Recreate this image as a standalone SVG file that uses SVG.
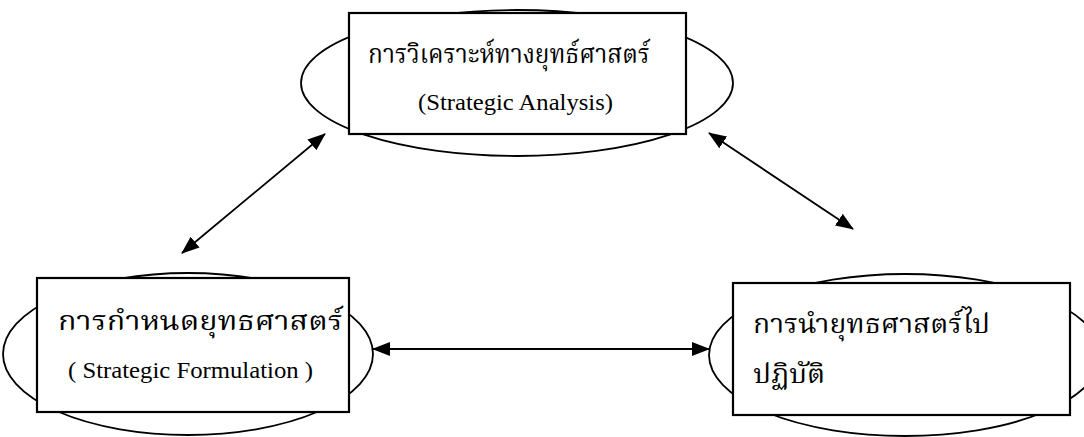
<svg xmlns="http://www.w3.org/2000/svg" width="1084" height="437" viewBox="0 0 1084 437">
<style>
.ell{fill:none;stroke:#000;stroke-width:1.8}
.box{fill:#fff;stroke:#000;stroke-width:2.2}
.th{font-family:"Liberation Serif","Noto Serif Thai","Noto Sans Thai",serif;font-size:27px;fill:#000}
.en{font-family:"Liberation Serif","Times New Roman",serif;font-size:24px;fill:#000}
.ar{stroke:#000;stroke-width:1.8;fill:none;marker-start:url(#ah);marker-end:url(#ah)}
</style>
<defs>
<marker id="ah" viewBox="0 0 18 14" refX="17" refY="7" markerWidth="18" markerHeight="14" markerUnits="userSpaceOnUse" orient="auto-start-reverse">
<path d="M0,0 L18,7 L0,14 Z" fill="#000"/>
</marker>
</defs>
<g id="node-analysis">
<ellipse class="ell" cx="517" cy="83" rx="216" ry="73"/>
<rect class="box" x="349" y="13" width="337" height="121"/>
<text class="th" x="368" y="63" textLength="282" lengthAdjust="spacingAndGlyphs">การวิเคราะห์ทางยุทธ์ศาสตร์</text>
<text class="en" x="418" y="110" textLength="195" lengthAdjust="spacingAndGlyphs">(Strategic Analysis)</text>
</g>
<g id="node-formulation">
<ellipse class="ell" cx="188" cy="354" rx="185" ry="81"/>
<rect class="box" x="37" y="278" width="312" height="134"/>
<text class="th" x="58" y="330" textLength="285" lengthAdjust="spacingAndGlyphs">การกำหนดยุทธศาสตร์</text>
<text class="en" x="68" y="378" textLength="245" lengthAdjust="spacingAndGlyphs">( Strategic Formulation )</text>
</g>
<g id="node-implementation">
<ellipse class="ell" cx="905" cy="355" rx="196" ry="81"/>
<rect class="box" x="733" y="283" width="337" height="132"/>
<text class="th" x="753" y="333" textLength="237" lengthAdjust="spacingAndGlyphs">การนำยุทธศาสตร์ไป</text>
<text class="th" x="753" y="383" textLength="72" lengthAdjust="spacingAndGlyphs">ปฏิบัติ</text>
</g>
<g id="connectors">
<line class="ar" x1="325" y1="134" x2="182" y2="253"/>
<line class="ar" x1="709" y1="133" x2="853" y2="229"/>
<line class="ar" x1="373" y1="349" x2="709" y2="349"/>
</g>
</svg>
